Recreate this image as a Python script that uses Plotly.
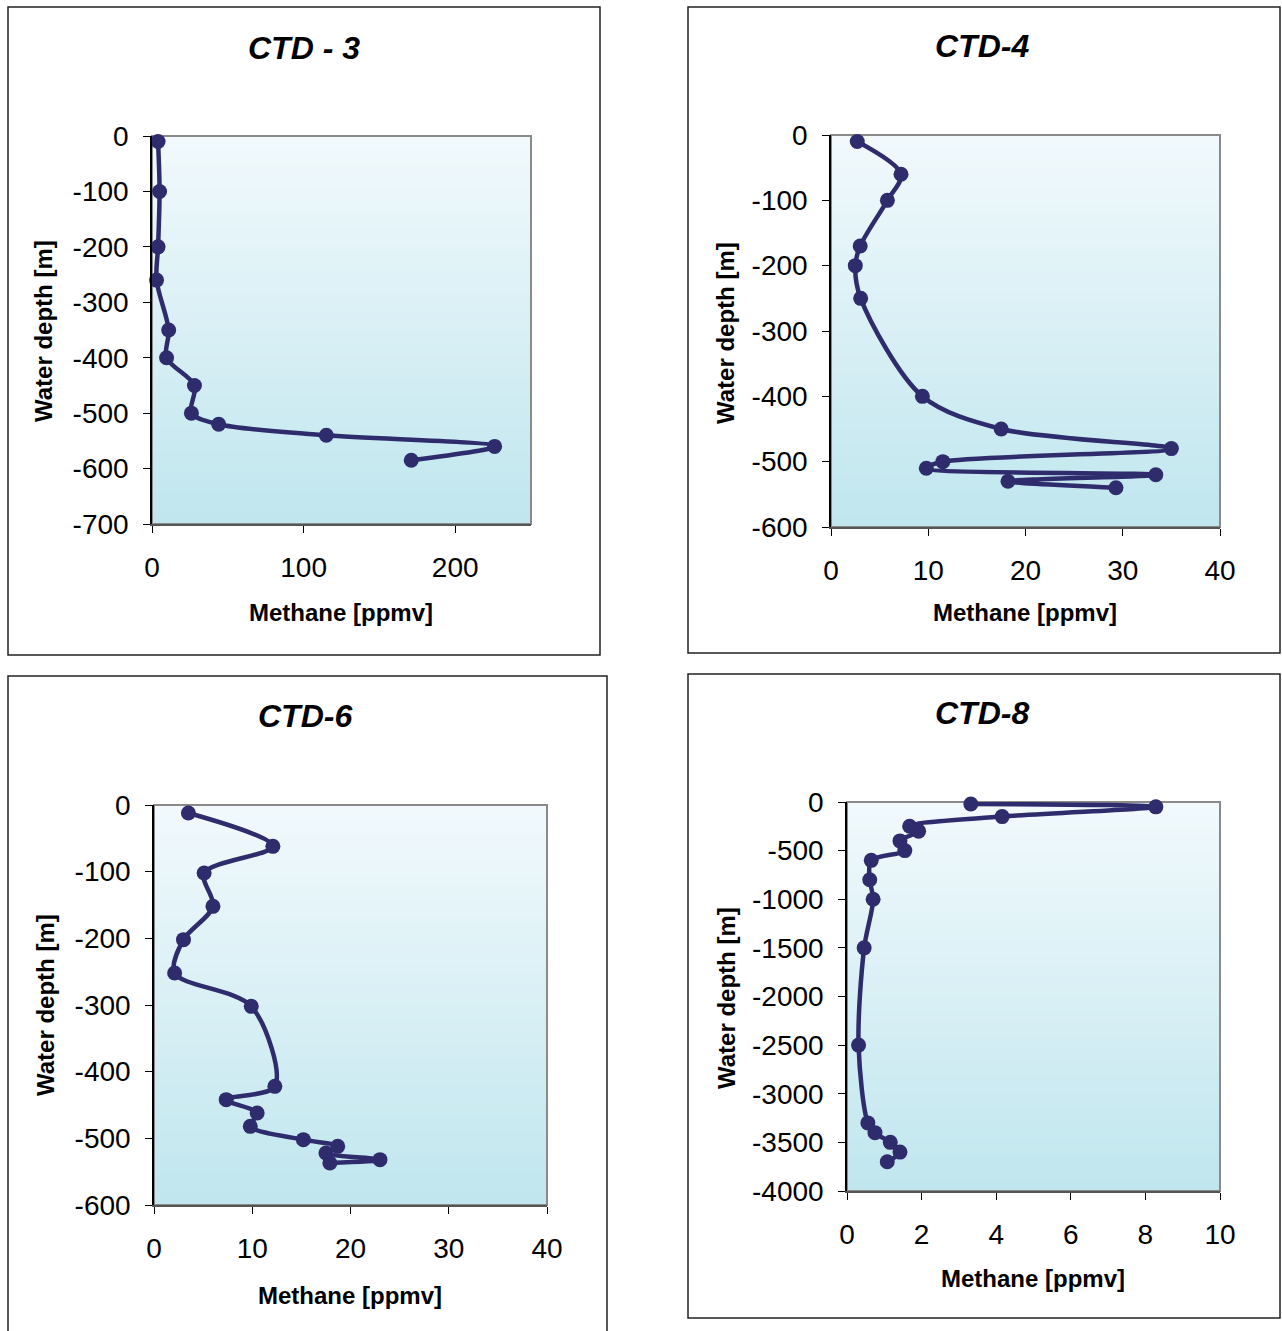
import plotly.graph_objects as go

W, H = 1282, 1331

# ---------------- data ----------------
ctd3_methane = [4, 5, 4, 3, 11, 9.6, 28, 26, 44, 115, 226, 171]
ctd3_depth = [-10, -100, -200, -260, -350, -400, -450, -500, -520, -540, -560, -585]

ctd4_methane = [2.7, 7.2, 5.8, 3.0, 2.5, 3.05, 9.4, 17.5, 35.0, 11.5, 9.8, 33.4, 18.2, 29.3]
ctd4_depth = [-10, -60, -100, -170, -200, -250, -400, -450, -480, -500, -510, -520, -530, -540]

ctd6_methane = [3.5, 12.1, 5.1, 6.0, 3.0, 2.1, 9.9, 12.3, 7.35, 10.5, 9.8, 15.2, 18.7, 17.5, 23.0, 17.9]
ctd6_depth = [-12, -62, -102, -152, -202, -252, -302, -422, -442, -462, -482, -502, -512, -522, -532, -537]

ctd8_methane = [3.32, 8.28, 4.16, 1.68, 1.92, 1.42, 1.55, 0.65, 0.61, 0.70, 0.46, 0.31, 0.56, 0.75, 1.16, 1.42, 1.08]
ctd8_depth = [-20, -50, -150, -250, -300, -400, -500, -600, -800, -1000, -1500, -2500, -3300, -3400, -3500, -3600, -3700]

titles = ["CTD - 3", "CTD-4", "CTD-6", "CTD-8"]
x_title = "Methane [ppmv]"
y_title = "Water depth [m]"

x_ticks_3 = [0, 100, 200]
y_ticks_3 = [0, -100, -200, -300, -400, -500, -600, -700]
x_ticks_4 = [0, 10, 20, 30, 40]
y_ticks_4 = [0, -100, -200, -300, -400, -500, -600]
x_ticks_6 = [0, 10, 20, 30, 40]
y_ticks_6 = [0, -100, -200, -300, -400, -500, -600]
x_ticks_8 = [0, 2, 4, 6, 8, 10]
y_ticks_8 = [0, -500, -1000, -1500, -2000, -2500, -3000, -3500, -4000]

# ---------------- layout geometry (pixels) ----------------
panels = [
    dict(x=ctd3_methane, y=ctd3_depth, xr=[0, 250], yr=[-700, 0], xt=x_ticks_3, yt=y_ticks_3,
         plot=(152, 531, 136, 524), frame=(8, 600, 7, 655), title=(304, 48),
         xtit=(341, 612), ytit=(43, 331)),
    dict(x=ctd4_methane, y=ctd4_depth, xr=[0, 40], yr=[-600, 0], xt=x_ticks_4, yt=y_ticks_4,
         plot=(831, 1220, 135, 527), frame=(688, 1280, 7, 653), title=(982, 46),
         xtit=(1025, 612), ytit=(725, 333)),
    dict(x=ctd6_methane, y=ctd6_depth, xr=[0, 40], yr=[-600, 0], xt=x_ticks_6, yt=y_ticks_6,
         plot=(154, 547, 805, 1205), frame=(8, 607, 676, 1340), title=(305, 716),
         xtit=(350, 1295), ytit=(45, 1005)),
    dict(x=ctd8_methane, y=ctd8_depth, xr=[0, 10], yr=[-4000, 0], xt=x_ticks_8, yt=y_ticks_8,
         plot=(847, 1220, 802, 1191), frame=(688, 1280, 674, 1318), title=(982, 713),
         xtit=(1033, 1278), ytit=(726, 998)),
]

LINE = "#2f2c6e"
FONT = "Liberation Sans, Arial, sans-serif"
TOP = (241, 249, 252)
BOT = (192, 230, 238)

fig = go.Figure()
shapes = []
annotations = []

def px(v):
    return v / W

def py(v):
    return 1 - v / H

for i, p in enumerate(panels, start=1):
    xa = "x" if i == 1 else f"x{i}"
    ya = "y" if i == 1 else f"y{i}"
    fig.add_trace(go.Scatter(
        x=p["x"], y=p["y"], xaxis=xa, yaxis=ya, mode="lines+markers",
        line=dict(color=LINE, width=4.5, shape="spline", smoothing=0.9),
        marker=dict(color=LINE, size=15), showlegend=False, cliponaxis=False))
    x0, x1, y0, y1 = p["plot"]
    axkey = "" if i == 1 else str(i)
    fig.layout["xaxis" + axkey] = dict(
        domain=[px(x0), px(x1)], range=p["xr"], anchor=ya, automargin=False,
        tickvals=p["xt"], ticktext=[str(v) for v in p["xt"]],
        ticks="outside", ticklen=7, tickcolor="black", tickwidth=1.3,
        showgrid=False, zeroline=False, showline=True, linecolor="#555", linewidth=1.5,
        tickfont=dict(size=28, color="black", family=FONT), ticklabelstandoff=11)
    fig.layout["yaxis" + axkey] = dict(
        domain=[py(y1), py(y0)], range=p["yr"], anchor=xa, automargin=False,
        tickvals=p["yt"], ticktext=[str(v) for v in p["yt"]],
        ticks="outside", ticklen=7, tickcolor="black", tickwidth=1.3,
        showgrid=False, zeroline=False, showline=True, linecolor="black", linewidth=1.5,
        tickfont=dict(size=28, color="black", family=FONT), ticklabelstandoff=9)
    # vertical gradient background of the plot area
    n = 60
    for k in range(n):
        t = k / (n - 1)
        c = tuple(round(BOT[j] + (TOP[j] - BOT[j]) * t) for j in range(3))
        shapes.append(dict(type="rect", xref=f"{xa} domain", yref=f"{ya} domain",
                           x0=0, x1=1, y0=k / n, y1=min(1, (k + 1.6) / n),
                           fillcolor=f"rgb{c}", line=dict(width=0), layer="below"))
    shapes.append(dict(type="rect", xref=f"{xa} domain", yref=f"{ya} domain",
                       x0=0, x1=1, y0=0, y1=1, line=dict(color="#8a8a8a", width=2),
                       fillcolor="rgba(0,0,0,0)", layer="below"))
    # chart frame
    fx0, fx1, fy0, fy1 = p["frame"]
    shapes.append(dict(type="rect", xref="paper", yref="paper",
                       x0=px(fx0), x1=px(fx1), y0=py(fy1), y1=py(fy0),
                       line=dict(color="#222", width=1.5), fillcolor="rgba(0,0,0,0)"))
    tx, ty = p["title"]
    annotations.append(dict(text=f"<b><i>{titles[i-1]}</i></b>", xref="paper", yref="paper",
                            x=px(tx), y=py(ty), xanchor="center", yanchor="middle",
                            showarrow=False, font=dict(size=32, color="black", family=FONT)))
    ax_, ay_ = p["xtit"]
    annotations.append(dict(text=f"<b>{x_title}</b>", xref="paper", yref="paper",
                            x=px(ax_), y=py(ay_), xanchor="center", yanchor="middle",
                            showarrow=False, font=dict(size=24, color="black", family=FONT)))
    bx, by = p["ytit"]
    annotations.append(dict(text=f"<b>{y_title}</b>", xref="paper", yref="paper",
                            x=px(bx), y=py(by), xanchor="center", yanchor="middle",
                            textangle=-90, showarrow=False,
                            font=dict(size=24, color="black", family=FONT)))

fig.update_layout(width=W, height=H,
                  margin=dict(l=0, r=0, t=0, b=0, pad=0, autoexpand=False),
                  paper_bgcolor="white", plot_bgcolor="rgba(0,0,0,0)",
                  shapes=shapes, annotations=annotations, showlegend=False,
                  font=dict(family=FONT, color="black"))

fig.write_html("out.html")
